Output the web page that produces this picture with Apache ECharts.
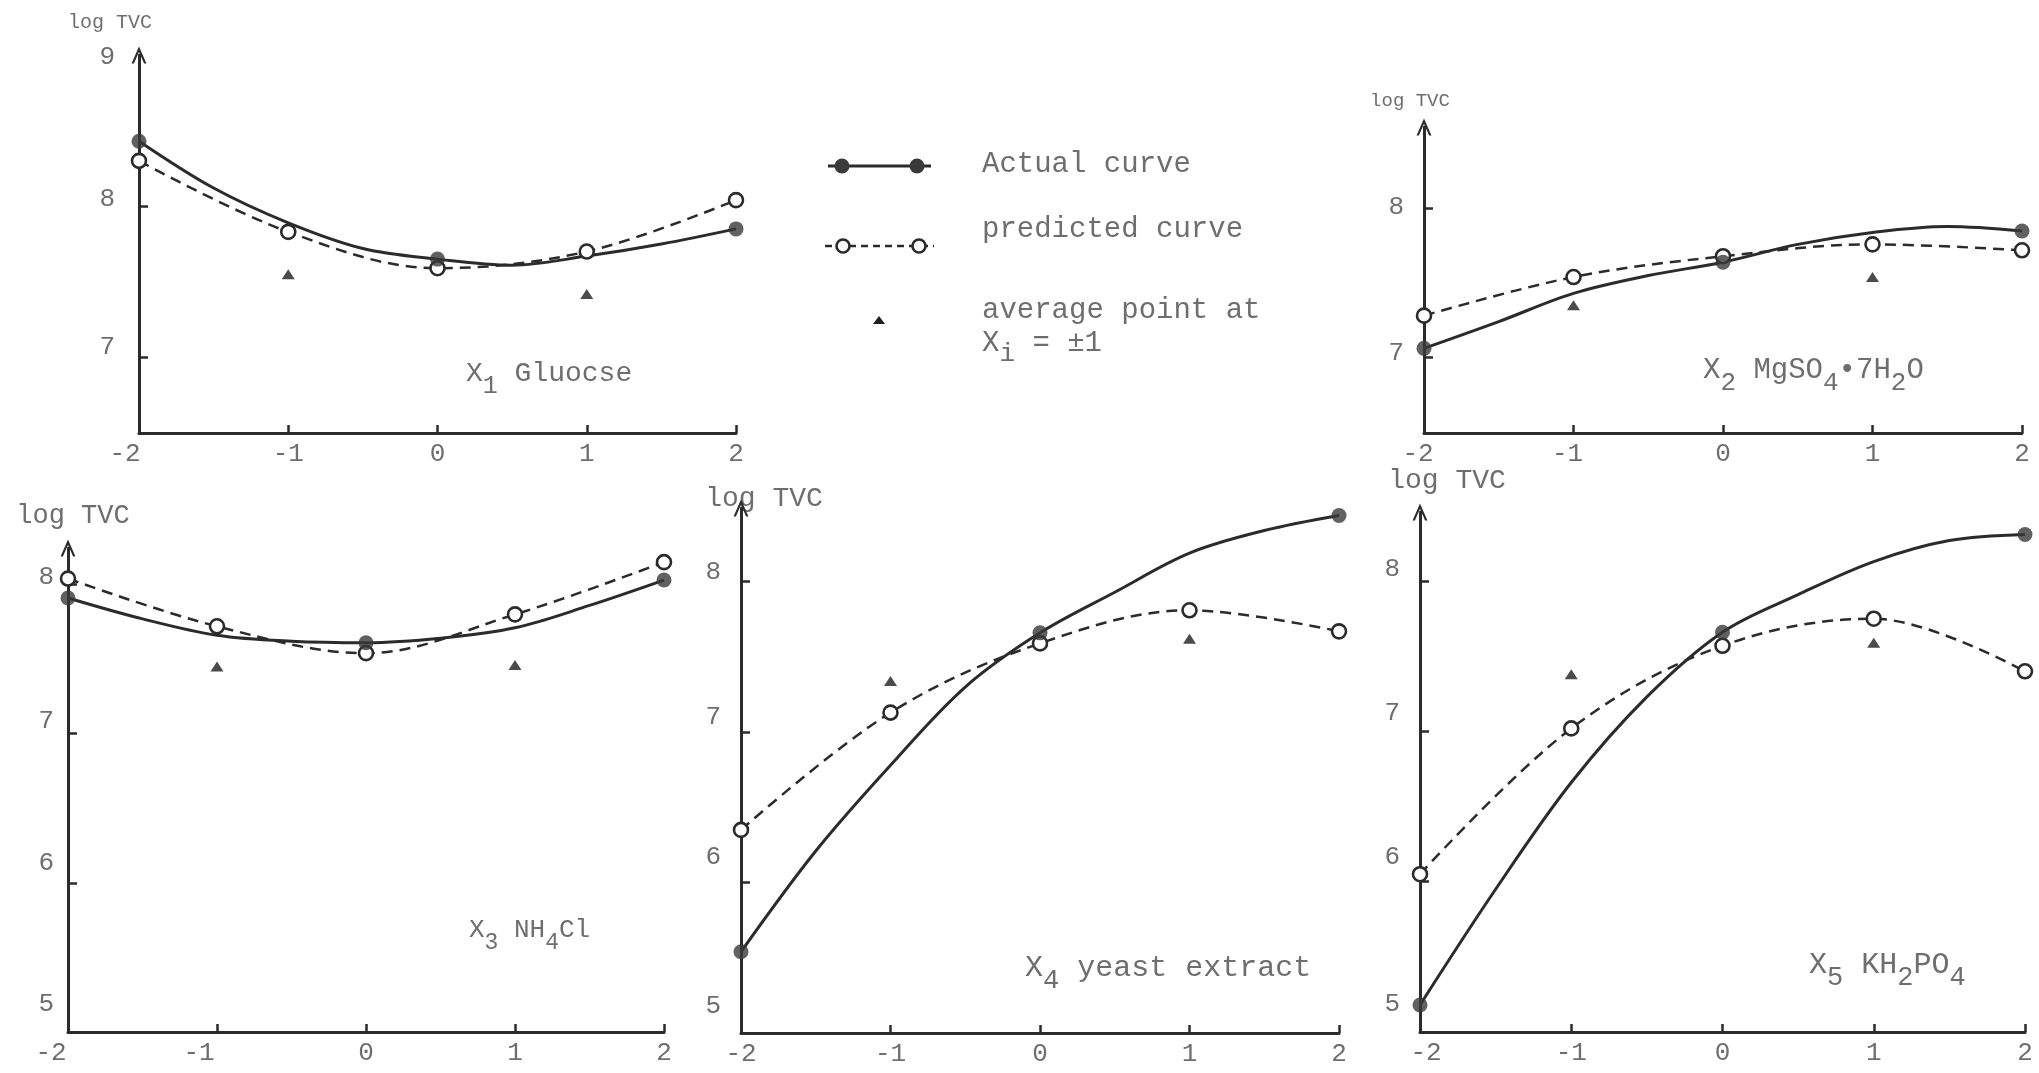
<!DOCTYPE html>
<html>
<head>
<meta charset="utf-8">
<title>log TVC response curves</title>
<script src="https://cdn.jsdelivr.net/npm/echarts@6/dist/echarts.min.js"></script>
<style>
  html, body { margin: 0; padding: 0; background: #ffffff; }
  #chart { width: 2039px; height: 1073px; }
</style>
</head>
<body>
<div id="chart"></div>
<script>
// Coded factor levels and their tick labels
const levels = [-2, -1, 0, 1, 2];
const xTickLabels = ['-2', '-1', '0', '1', '2'];
const axialLevels = [-2, 0, 2];
const averageLevels = [-1, 1];

// X1 glucose
const glucoseActual = [8.43, 7.65, 7.85];
const glucoseActualTrace = [[-1.5, 8.12], [-1, 7.89], [-0.5, 7.72], [0.5, 7.61], [1, 7.67], [1.5, 7.75]];
const glucosePredicted = [8.30, 7.83, 7.59, 7.70, 8.04];
const glucoseAverage = [7.55, 7.42];
const glucoseYLabels = [7, 8, 9];

// X2 MgSO4.7H2O
const mgso4Actual = [7.06, 7.64, 7.85];
const mgso4ActualTrace = [[-1.5, 7.24], [-1, 7.43], [-0.5, 7.55], [0.5, 7.76], [1, 7.84], [1.5, 7.88]];
const mgso4Predicted = [7.28, 7.54, 7.68, 7.76, 7.72];
const mgso4Average = [7.35, 7.54];
const mgso4YLabels = [7, 8];

// X3 NH4Cl
const nh4clActual = [7.91, 7.61, 8.03];
const nh4clActualTrace = [[-1.5, 7.77], [-1, 7.66], [-0.5, 7.62], [0.5, 7.64], [1, 7.71], [1.5, 7.86]];
const nh4clPredicted = [8.04, 7.72, 7.54, 7.80, 8.15];
const nh4clAverage = [7.45, 7.46];
const nh4clYLabels = [5, 6, 7, 8];

// X4 yeast extract
const yeastActual = [5.54, 7.66, 8.44];
const yeastActualTrace = [[-1.5, 6.21], [-1, 6.78], [-0.5, 7.30], [0.5, 7.93], [1, 8.19], [1.5, 8.34]];
const yeastPredicted = [6.35, 7.13, 7.59, 7.81, 7.67];
const yeastAverage = [7.34, 7.62];
const yeastYLabels = [5, 6, 7, 8];

// X5 KH2PO4
const kh2po4Actual = [5.18, 7.66, 8.31];
const kh2po4ActualTrace = [[-1.5, 5.95], [-1, 6.66], [-0.5, 7.23], [0.5, 7.91], [1, 8.13], [1.5, 8.27]];
const kh2po4Predicted = [6.05, 7.02, 7.57, 7.75, 7.40];
const kh2po4Average = [7.38, 7.59];
const kh2po4YLabels = [5, 6, 7, 8];

// Panel titles (rich text with subscripts)
const panelTitles = [
  '{n|X}{s|1}{n| Gluocse}',
  '{n|X}{s|2}{n| MgSO}{s|4}{n|•7H}{s|2}{n|O}',
  '{n|X}{s|3}{n| NH}{s|4}{n|Cl}',
  '{n|X}{s|4}{n| yeast extract}',
  '{n|X}{s|5}{n| KH}{s|2}{n|PO}{s|4}'
];
const axisName = 'log TVC';
const legendLabels = ['Actual curve', 'predicted curve', 'average point at', '{n|X}{s|i}{n| = ±1}'];

const panelData = [
  { actual: glucoseActual, trace: glucoseActualTrace, predicted: glucosePredicted, average: glucoseAverage, yLabels: glucoseYLabels },
  { actual: mgso4Actual, trace: mgso4ActualTrace, predicted: mgso4Predicted, average: mgso4Average, yLabels: mgso4YLabels },
  { actual: nh4clActual, trace: nh4clActualTrace, predicted: nh4clPredicted, average: nh4clAverage, yLabels: nh4clYLabels },
  { actual: yeastActual, trace: yeastActualTrace, predicted: yeastPredicted, average: yeastAverage, yLabels: yeastYLabels },
  { actual: kh2po4Actual, trace: kh2po4ActualTrace, predicted: kh2po4Predicted, average: kh2po4Average, yLabels: kh2po4YLabels }
];

// Layout of the five panels (pixels), value ranges and typed-label offsets
const panelLayout = [
  { left: 139,  top: 55,  width: 597, height: 378, yMin: 6.5,  yMax: 9.0,   nameGap: 32, nameShift: -29, nameSize: 20,
    titleLeft: 466,  titleTop: 360, titleSize: 28, yLabelMargin: 24, yLabelLift: [10, 7, -2], xLabelShift: [14, 0, 0, 0, 0] },
  { left: 1424, top: 127, width: 598, height: 306, yMin: 6.49, yMax: 8.55,  nameGap: 26, nameShift: -14, nameSize: 19,
    titleLeft: 1703, titleTop: 356, titleSize: 29, yLabelMargin: 20, yLabelLift: [4, 2], xLabelShift: [6, 6, 0, 0, 0] },
  { left: 68,   top: 548, width: 596, height: 490, yMin: 5.0,  yMax: 8.245, nameGap: 32, nameShift: 5,   nameSize: 27,
    titleLeft: 469,  titleTop: 917, titleSize: 26, yLabelMargin: 14, yLabelLift: [28, 20, 13, 7], xLabelShift: [17, 18, 0, 0, 0] },
  { left: 741,  top: 508, width: 598, height: 529, yMin: 5.0,  yMax: 8.49,  nameGap: 9,  nameShift: 23,  nameSize: 28,
    titleLeft: 1025, titleTop: 953, titleSize: 30, yLabelMargin: 20, yLabelLift: [27, 25, 15, 10], xLabelShift: [0, 0, 0, 0, 0] },
  { left: 1420, top: 512, width: 605, height: 526, yMin: 5.0,  yMax: 8.46,  nameGap: 31, nameShift: 27,  nameSize: 28,
    titleLeft: 1809, titleTop: 950, titleSize: 30, yLabelMargin: 20, yLabelLift: [28, 25, 18, 12], xLabelShift: [-6, 0, 0, 0, 0] }
];

const INK = '#2b2b2b';
const DOT = '#3a3a3a';
const TEXT = '#6e6e6e';
const FONT = '"Liberation Mono", "DejaVu Sans Mono", monospace';
const TICK_FONT = 26;
const arrowHead = 'path://M0,16 L7,0 L14,16 L11.8,16 L7,5 L2.2,16 Z';

function richStyles(size, drop) {
  return {
    n: { fontFamily: FONT, fontSize: size, fontWeight: 'normal', color: TEXT, lineHeight: size + 8, verticalAlign: 'top' },
    s: { fontFamily: FONT, fontSize: size - 3, fontWeight: 'normal', color: TEXT, lineHeight: size + 8, verticalAlign: 'top', padding: [drop, 0, 0, 0] }
  };
}

// One rich style per tick label: vertical lift (y labels) or sideways shift (x labels)
function liftStyles(lifts) {
  const r = {};
  lifts.forEach(function (d, i) {
    r['t' + i] = {
      fontFamily: FONT, fontSize: TICK_FONT, color: TEXT, lineHeight: TICK_FONT + 4,
      padding: d >= 0 ? [0, 0, 2 * d, 0] : [-2 * d, 0, 0, 0]
    };
  });
  return r;
}
function shiftStyles(shifts) {
  const r = {};
  shifts.forEach(function (d, i) {
    r['t' + i] = {
      fontFamily: FONT, fontSize: TICK_FONT, color: TEXT, lineHeight: TICK_FONT + 4,
      padding: d >= 0 ? [0, 2 * d, 0, 0] : [0, 0, 0, -2 * d]
    };
  });
  return r;
}

const grids = [], xAxes = [], yAxes = [], series = [], titles = [];

panelData.forEach(function (p, k) {
  const L = panelLayout[k];
  grids.push({ left: L.left, top: L.top, width: L.width, height: L.height, containLabel: false });

  xAxes.push({
    type: 'value', gridIndex: k, min: -2, max: 2, interval: 1,
    axisLine: { onZero: false, lineStyle: { color: INK, width: 3 } },
    axisTick: { inside: true, length: 8, lineStyle: { color: INK, width: 2.5 } },
    axisLabel: {
      color: TEXT, fontFamily: FONT, fontSize: TICK_FONT, margin: 6,
      rich: shiftStyles(L.xLabelShift),
      formatter: function (v) {
        const i = levels.indexOf(v);
        return i >= 0 ? '{t' + i + '|' + xTickLabels[i] + '}' : '';
      }
    },
    splitLine: { show: false }
  });

  const nameShift = L.nameShift;
  const yLabels = p.yLabels;
  yAxes.push({
    type: 'value', gridIndex: k, min: L.yMin, max: L.yMax,
    name: axisName, nameLocation: 'end', nameGap: L.nameGap,
    nameTextStyle: {
      fontFamily: FONT, fontSize: L.nameSize, color: TEXT,
      align: 'center', verticalAlign: 'middle',
      padding: nameShift >= 0 ? [0, 0, 0, 2 * nameShift] : [0, -2 * nameShift, 0, 0]
    },
    axisLine: {
      onZero: false, symbol: ['none', arrowHead], symbolSize: [15, 17],
      lineStyle: { color: INK, width: 3 }
    },
    axisTick: {
      inside: true, length: 9, lineStyle: { color: INK, width: 2.5 },
      customValues: yLabels.filter(function (v) { return v < L.yMax - 0.1 && v > L.yMin + 0.1; })
    },
    axisLabel: {
      customValues: yLabels, color: TEXT, fontFamily: FONT, fontSize: TICK_FONT, margin: L.yLabelMargin,
      rich: liftStyles(L.yLabelLift),
      formatter: function (v) {
        const i = yLabels.indexOf(v);
        return i >= 0 ? '{t' + i + '|' + v + '}' : '';
      }
    },
    splitLine: { show: false }
  });

  const actualPoints = axialLevels.map(function (x, i) { return [x, p.actual[i]]; });
  const curve = actualPoints.concat(p.trace).sort(function (a, b) { return a[0] - b[0]; });

  series.push({
    type: 'line', name: 'Actual curve', xAxisIndex: k, yAxisIndex: k,
    data: curve, smooth: 0.35, symbol: 'none', clip: false, silent: true,
    lineStyle: { color: INK, width: 3 }, z: 3
  });
  series.push({
    type: 'line', name: 'predicted curve', xAxisIndex: k, yAxisIndex: k,
    data: levels.map(function (x, i) { return [x, p.predicted[i]]; }),
    smooth: 0.35, symbol: 'circle', symbolSize: 14, showSymbol: true, clip: false,
    lineStyle: { color: INK, width: 2.5, type: [11, 7] },
    itemStyle: { color: '#ffffff', borderColor: INK, borderWidth: 2.6 }, z: 4
  });
  series.push({
    type: 'scatter', name: 'Actual curve', xAxisIndex: k, yAxisIndex: k,
    data: actualPoints, symbol: 'circle', symbolSize: 15, clip: false,
    itemStyle: { color: DOT }, z: 5
  });
  series.push({
    type: 'scatter', name: 'average point', xAxisIndex: k, yAxisIndex: k,
    data: averageLevels.map(function (x, i) { return [x, p.average[i]]; }),
    symbol: 'triangle', symbolSize: [13, 10], clip: false,
    itemStyle: { color: '#1e1e1e' }, z: 6
  });

  titles.push({
    text: panelTitles[k], left: L.titleLeft, top: L.titleTop, padding: 0,
    textStyle: { fontWeight: 'normal', rich: richStyles(L.titleSize, 14) }
  });
});

// Key in the upper middle
const keyFont = '29px ' + FONT;
const legendGraphics = [
  { type: 'line', shape: { x1: 828, y1: 166, x2: 931, y2: 166 }, style: { stroke: INK, lineWidth: 3 } },
  { type: 'circle', shape: { cx: 842, cy: 166, r: 7.5 }, style: { fill: DOT } },
  { type: 'circle', shape: { cx: 917, cy: 166, r: 7.5 }, style: { fill: DOT } },
  { type: 'line', shape: { x1: 825, y1: 246, x2: 934, y2: 246 }, style: { stroke: INK, lineWidth: 2.5, lineDash: [7, 5] } },
  { type: 'circle', shape: { cx: 843, cy: 246, r: 6.5 }, style: { fill: '#ffffff', stroke: INK, lineWidth: 2.6 } },
  { type: 'circle', shape: { cx: 919, cy: 246, r: 6.5 }, style: { fill: '#ffffff', stroke: INK, lineWidth: 2.6 } },
  { type: 'polygon', shape: { points: [[873, 324], [879, 316], [885, 324]] }, style: { fill: '#1e1e1e' } },
  { type: 'text', x: 982, y: 164, style: { text: legendLabels[0], font: keyFont, fill: TEXT, verticalAlign: 'middle' } },
  { type: 'text', x: 982, y: 229, style: { text: legendLabels[1], font: keyFont, fill: TEXT, verticalAlign: 'middle' } },
  { type: 'text', x: 982, y: 310, style: { text: legendLabels[2], font: keyFont, fill: TEXT, verticalAlign: 'middle' } },
  { type: 'text', x: 982, y: 329, style: { text: legendLabels[3], rich: richStyles(29, 12), fill: TEXT, verticalAlign: 'top' } }
];

const chart = echarts.init(document.getElementById('chart'), null, { renderer: 'canvas', width: 2039, height: 1073 });
chart.setOption({
  animation: false,
  backgroundColor: '#ffffff',
  textStyle: { fontFamily: FONT },
  title: titles,
  grid: grids,
  xAxis: xAxes,
  yAxis: yAxes,
  series: series,
  graphic: legendGraphics
});
</script>
</body>
</html>
